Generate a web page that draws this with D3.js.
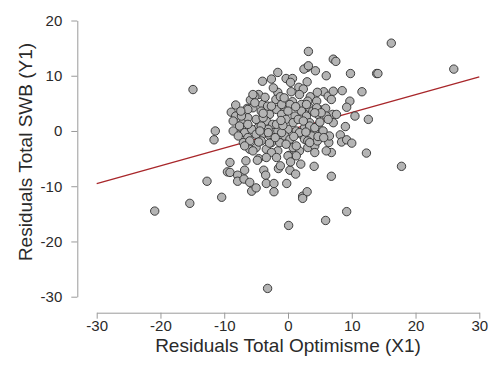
<!DOCTYPE html>
<html>
<head>
<meta charset="utf-8">
<script src="https://cdn.jsdelivr.net/npm/d3@7"></script>
<style>
  body { margin: 0; background: #fff; }
  svg text { font-family: "Liberation Sans", Arial, sans-serif; }
</style>
</head>
<body>
<div id="chart"></div>
<script>
// residual pairs: x = optimisme residual, y = SWB residual
var resX = [16.2, 26.0, -14.9, 17.8, 12.3, 9.8, 13.9, 14.1, 8.5, 11.6, 9.7, 9.2, 10.5, 12.6, 9.0, 8.2, 8.4, 9.2, 10.0, 6.8,
  9.2, 7.1, 7.5, -20.9, -15.4, -3.2, 0.1, 5.9, -12.7, -10.4, -11.6, -11.4, -9.1, -9.5, -9.1, -7.9, -7.9, -6.8, -6.6, -6.9,
  -6.0, -5.7, -5.0, -4.6, -3.8, -3.5, -3.4, -2.2, -2.2, -1.5, -1.2, -0.2, 0.2, 0.3, 1.2, 2.0, 2.3, 3.0, 4.1, 6.8,
  6.0, 6.4, 2.3, -4.8, 3.2, 3.0, 2.5, 4.3, -1.6, 6.0, -2.6, -4.0, -0.3, 0.7, 0.4, 3.0, 1.7, 2.4, 0.5, -1.6,
  -4.6, -5.2, -5.9, -1.9, -1.2, 0.7, 3.5, 5.6, 6.3, 6.8, 7.1, 4.5, -8.2, -8.9, -6.4, -5.5, -4.0, -3.2, -0.5, 0.3,
  2.3, 3.4, 5.1, 5.9, 7.0, -8.2, 3.2, 4.6, 2.1, 3.1, -5.2, -4.2, -2.9, -1.8, -1.0, 0.0, 1.1, 2.1, 2.9, 3.9,
  4.7, -5.0, -3.4, -2.4, -0.3, 0.8, 1.6, 3.4, -4.7, -3.1, -1.6, 0.0, 1.3, 2.6, 4.2, -4.2, -2.9, -0.5, 2.1, 3.7,
  -5.5, -6.3, -8.6, -7.1, -6.3, -8.6, -7.3, -6.8, -5.7, -7.8, -6.3, -5.0, -7.3, -7.6, -7.0, -6.3, -6.0, -6.0, -5.0, -4.2,
  -3.9, -3.1, -2.6, -1.6, -1.8, -1.0, 0.3, 1.8, 2.6, 3.1, 1.8, 4.2, 4.6, 3.4, 4.7, 5.5, 6.0, 7.1, 7.6, -2.6,
  -1.0, 2.9, 4.5, -3.4, -2.6, -1.3, -6.8, -5.5, 0.8, 1.3, 3.1, 5.2, 4.2, 6.3, 4.2, 6.5, 4.7, 4.2, -4.4, -2.9,
  -4.2, -3.4, 0.0, -0.3, 1.3, 3.4,
  -0.8, -3.9, 1.2, -2.0, 0.9, -1.1, 2.4, 5.0, -4.6, -7.4, -0.6, 1.8, -3.6, 2.8, -1.8, 5.6, 0.4, -2.3];
var resY = [15.9, 11.2, 7.5, -6.4, -4.0, 10.4, 10.4, 10.4, 7.3, 7.1, 5.4, 4.3, 2.7, 2.1, 0.8, -0.7, -2.0, -1.6, -2.2, -8.2,
  -14.6, 13.0, 12.6, -14.5, -13.1, -28.5, -17.1, -16.2, -9.1, -12.0, -1.6, 0.0, -5.7, -7.4, -7.5, -8.0, -9.1, -7.1, -5.4, -8.7,
  -9.3, -10.9, -10.3, -5.0, -7.1, -8.0, -9.5, -9.5, -11.0, -6.8, -6.3, -9.5, -4.4, -7.1, -7.8, -6.0, -11.8, -11.0, -6.4, -3.9,
  -3.6, -2.1, -12.2, -5.3, 14.4, 11.5, 11.2, 10.9, 10.6, 10.0, 9.4, 9.0, 9.5, 9.5, 8.8, 8.9, 7.9, 7.6, 7.1, 7.0,
  6.6, 6.3, 5.6, 5.7, 6.2, 5.3, 6.2, 7.1, 6.3, 5.7, 7.2, 5.4, 4.7, 3.4, 4.1, 4.2, 4.8, 4.5, 4.2, 4.8,
  4.1, 4.2, 3.8, 4.1, 3.0, 2.7, 11.8, 7.0, 4.8, 5.4, 5.1, 3.6, 3.0, 3.9, 3.0, 3.6, 2.7, 3.6, 2.7, 3.6,
  3.0, 2.1, 1.8, 1.2, 2.1, 1.5, 2.1, 1.5, 0.6, 0.3, 0.0, 0.3, 0.0, 0.6, 0.0, -0.9, -0.8, -0.9, -0.6, -0.9,
  6.6, 3.9, 1.8, 1.5, 2.4, 0.0, 0.6, -0.3, 0.3, -0.9, -1.2, -0.6, 2.7, 0.9, -2.1, 1.2, -1.8, -3.3, -3.0, 0.9,
  2.4, -0.3, -2.1, -3.6, 1.2, -0.3, -1.5, -0.3, -1.5, -3.0, -3.6, -2.7, -1.8, 0.9, 0.9, 0.0, 2.7, 1.5, 3.0, 4.5,
  4.8, 4.8, 4.2, -3.3, -3.9, -2.1, -2.7, -3.6, -3.0, -4.5, -1.8, 3.3, 3.3, 2.1, 0.6, -0.9, -1.0, -3.9, 0.0, -2.2,
  -1.8, -4.8, -4.5, -2.4, -2.7, -2.1,
  1.0, 3.2, 4.4, -1.2, -1.0, 1.9, 1.8, 1.6, -2.0, 3.6, 6.0, 6.6, 6.1, -0.2, -4.8, -1.2, -5.6, 7.8];

// fitted line y = a + b * x
var fitIntercept = 0.15;
var fitSlope = 0.322;

var xTicks = [-30, -20, -10, 0, 10, 20, 30];
var yTicks = [-30, -20, -10, 0, 10, 20];

var width = 490;
var height = 372;

var svg = d3.select("#chart")
  .append("svg")
  .attr("width", width)
  .attr("height", height);

var x = d3.scaleLinear().domain([-30, 30]).range([96.7, 479.3]);
var y = d3.scaleLinear().domain([-30, 20]).range([296.7, 20.5]);

// plain hyphen for negatives, like the original
var fmt = function (d) { return String(d); };

var xAxis = svg.append("g")
  .attr("transform", "translate(0,312.7)")
  .call(d3.axisBottom(x).tickValues(xTicks).tickFormat(fmt).tickSize(6).tickSizeOuter(0).tickPadding(2));

var yAxis = svg.append("g")
  .attr("transform", "translate(77.3,0)")
  .call(d3.axisLeft(y).tickValues(yTicks).tickFormat(fmt).tickSize(6).tickSizeOuter(0).tickPadding(9));

[xAxis, yAxis].forEach(function (g) {
  g.select(".domain").attr("stroke", "#9a9a9a");
  g.selectAll(".tick line").attr("stroke", "#9a9a9a");
  g.selectAll(".tick text")
    .attr("fill", "#2a2a2a")
    .style("font-size", "15px");
});

svg.append("line")
  .attr("x1", x(-30))
  .attr("y1", y(fitIntercept + fitSlope * -30))
  .attr("x2", x(30))
  .attr("y2", y(fitIntercept + fitSlope * 30))
  .attr("stroke", "#a8262a")
  .attr("stroke-width", 1.3);

svg.selectAll(".dot")
  .data(resX.map(function (d, i) { return [d, resY[i]]; }))
  .enter()
  .append("circle")
  .attr("class", "dot")
  .attr("cx", function (d) { return x(d[0]); })
  .attr("cy", function (d) { return y(d[1]); })
  .attr("r", 4.2)
  .style("fill", "#b4b4b4")
  .style("stroke", "#2e2e2e")
  .style("stroke-width", 0.9);

svg.append("text")
  .attr("x", 288)
  .attr("y", 351.5)
  .attr("text-anchor", "middle")
  .attr("fill", "#2a2a2a")
  .style("font-size", "19px")
  .text("Residuals Total Optimisme (X1)");

svg.append("text")
  .attr("transform", "translate(31.5,152) rotate(-90)")
  .attr("text-anchor", "middle")
  .attr("fill", "#2a2a2a")
  .style("font-size", "19px")
  .text("Residuals Total SWB (Y1)");
</script>
</body>
</html>
